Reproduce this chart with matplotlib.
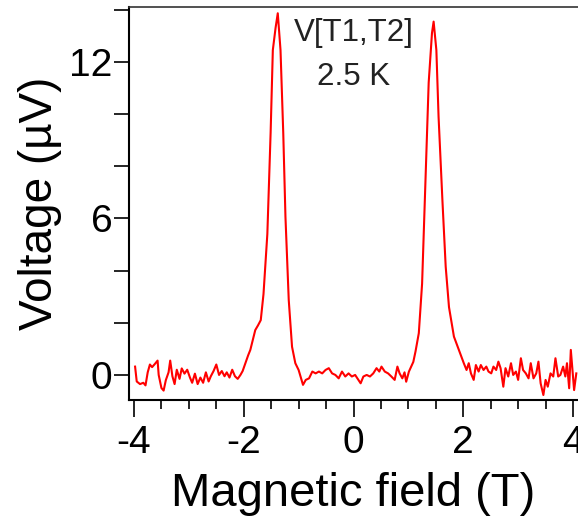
import matplotlib
matplotlib.use("Agg")
import matplotlib.pyplot as plt
from matplotlib.ticker import MultipleLocator

plt.rcParams['font.family'] = ['Liberation Sans', 'DejaVu Sans']

# field (T) and voltage (uV)
field = [
    -3.98, -3.95, -3.89, -3.83, -3.79, -3.75, -3.71, -3.67, -3.62, -3.57,
    -3.55, -3.50, -3.46, -3.42, -3.37, -3.34, -3.30, -3.26, -3.22, -3.17,
    -3.13, -3.08, -3.03, -2.98, -2.94, -2.89, -2.84, -2.79, -2.74, -2.69,
    -2.64, -2.60, -2.55, -2.50, -2.45, -2.40, -2.35, -2.31, -2.26, -2.21,
    -2.16, -2.11, -2.06, -2.02, -1.97, -1.92, -1.88, -1.84, -1.79, -1.74,
    -1.69, -1.64, -1.57, -1.51, -1.47, -1.42, -1.38, -1.33, -1.28, -1.24,
    -1.18, -1.12, -1.06, -1.00, -0.96, -0.92, -0.87, -0.81, -0.75, -0.69,
    -0.63, -0.57, -0.51, -0.45, -0.39, -0.33, -0.27, -0.21, -0.15, -0.09,
    -0.03, 0.03, 0.09, 0.13, 0.18, 0.24, 0.30, 0.36, 0.42, 0.47,
    0.51, 0.57, 0.63, 0.69, 0.75, 0.80, 0.84, 0.89, 0.93, 0.96,
    1.01, 1.05, 1.09, 1.13, 1.19, 1.25, 1.31, 1.37, 1.43, 1.46,
    1.51, 1.55, 1.62, 1.68, 1.74, 1.83, 1.92, 1.95, 2.01, 2.06,
    2.10, 2.14, 2.19, 2.23, 2.28, 2.32, 2.37, 2.42, 2.46, 2.51,
    2.55, 2.60, 2.64, 2.68, 2.73, 2.77, 2.82, 2.87, 2.91, 2.96,
    3.00, 3.05, 3.09, 3.14, 3.19, 3.23, 3.28, 3.33, 3.37, 3.41,
    3.46, 3.50, 3.54, 3.59, 3.64, 3.68, 3.73, 3.77, 3.82, 3.86,
    3.89, 3.93, 3.96, 3.99, 4.02, 4.06,
]
voltage = [
    0.32, -0.25, -0.35, -0.30, -0.40, 0.10, 0.40, 0.30, 0.42, 0.55,
    0.00, -0.50, -0.60, -0.20, 0.10, 0.55, -0.05, -0.35, 0.20, -0.15,
    0.25, 0.05, 0.20, -0.10, -0.30, 0.05, -0.35, -0.10, -0.30, 0.10,
    -0.25, -0.05, 0.15, 0.40, 0.00, 0.15, -0.05, 0.10, -0.10, 0.20,
    -0.05, -0.15, 0.00, 0.15, 0.45, 0.75, 0.96, 1.30, 1.72, 1.90,
    2.10, 3.10, 5.40, 9.30, 12.45, 13.30, 13.86, 12.45, 9.27, 6.06,
    2.87, 1.08, 0.45, 0.19, -0.10, -0.38, -0.19, -0.13, 0.13, 0.06,
    0.13, 0.06, 0.19, 0.26, 0.06, 0.00, -0.13, 0.13, -0.06, 0.06,
    -0.06, 0.00, -0.19, -0.32, -0.06, 0.00, -0.06, 0.06, 0.26, 0.13,
    0.32, 0.13, 0.06, -0.06, -0.19, 0.32, 0.06, -0.13, 0.10, -0.26,
    0.13, 0.32, 0.50, 0.90, 1.60, 3.50, 7.30, 11.20, 13.10, 13.54,
    12.45, 9.90, 6.70, 4.15, 2.60, 1.47, 0.96, 0.80, 0.45, 0.19,
    0.45, 0.06, -0.19, 0.38, 0.13, 0.38, 0.19, 0.32, 0.13, 0.06,
    0.32, 0.19, 0.51, 0.26, -0.45, 0.26, -0.06, 0.45, 0.00, 0.13,
    -0.19, 0.64, 0.19, 0.06, -0.13, 0.45, -0.13, 0.06, 0.51, -0.32,
    -0.77, -0.19, -0.45, 0.06, -0.06, 0.64, -0.06, 0.00, 0.32, -0.06,
    0.45, -0.51, 0.96, 0.19, -0.58, 0.06,
]

fig = plt.figure(figsize=(5.78, 5.21), dpi=100)
ax = fig.add_axes([128.5 / 578, 121 / 521, 450 / 578, 393 / 521])

ax.plot(field, voltage, color='#ff0000', lw=1.5)

ax.set_xlim(-4.1, 4.1)
ax.set_ylim(-0.96, 14.1)

ax.xaxis.set_major_locator(MultipleLocator(2))
ax.xaxis.set_minor_locator(MultipleLocator(0.5))
ax.yaxis.set_major_locator(MultipleLocator(6))
ax.yaxis.set_minor_locator(MultipleLocator(2))
ax.tick_params(axis='x', which='major', direction='out', length=12, width=1.2,
               labelsize=28, pad=6)
ax.tick_params(axis='x', which='minor', direction='out', length=6.5, width=1.2)
ax.tick_params(axis='y', which='both', direction='out', length=11, width=1.2,
               labelsize=28, pad=0.5)
ax.xaxis.set_major_formatter(plt.FuncFormatter(lambda v, p: f"{v:g}"))
ax.yaxis.set_major_formatter(plt.FuncFormatter(lambda v, p: f"{v:g}"))

ax.spines['right'].set_visible(False)
ax.spines['left'].set_linewidth(1.5)
ax.spines['bottom'].set_linewidth(1.5)
ax.spines['top'].set_linewidth(1.2)
ax.spines['top'].set_color('#333333')

ax.set_xlabel('Magnetic field (T)', fontsize=34, labelpad=8)
ax.set_ylabel('Voltage (µV)', fontsize=33, labelpad=5)

ax.text(0.0, 13.1, 'V[T1,T2]', ha='center', va='center', fontsize=22.5, color='#222222')
ax.text(0.0, 11.4, '2.5 K', ha='center', va='center', fontsize=22.5, color='#222222')

fig.savefig('out.png', dpi=100)
